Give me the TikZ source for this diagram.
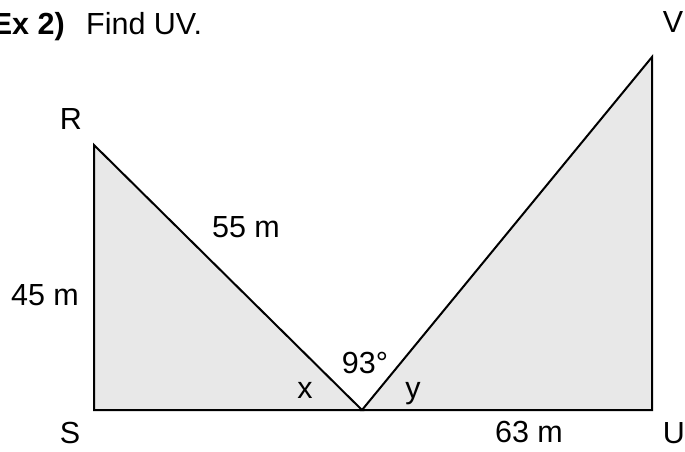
\documentclass[tikz,border=0pt]{standalone}
\usepackage{fontspec}
\setmainfont{Liberation Sans}
\definecolor{cFill}{HTML}{E8E8E8}
\definecolor{cInk}{HTML}{000000}

\begin{document}
\begin{tikzpicture}[
  x=1pt, y=1pt,
  font=\fontsize{30.5}{36}\selectfont,
  tri/.style={draw=cInk, fill=cFill, line width=2pt, line join=miter},
  lbl/.style={anchor=base, inner sep=0pt, text=cInk},
]
\useasboundingbox (0,0) rectangle (685,451);

% ---------------- title ----------------
\node[lbl, anchor=base east, font=\fontsize{30.5}{36}\selectfont\bfseries] (exlbl) at (65,417) {Ex 2)};
\node[lbl, anchor=base west] (task) at (86,417) {Find UV.};

% ---------------- vertices ----------------
\coordinate (S) at (94,41);
\coordinate (R) at (94,306);
\coordinate (M) at (362,41);
\coordinate (U) at (652,41);
\coordinate (V) at (652,394);

% ---------------- triangles ----------------
\draw[tri] (S) -- (R) -- (M) -- cycle;
\draw[tri] (M) -- (V) -- (U) -- cycle;

% ---------------- vertex labels ----------------
\node[lbl] (lblR) at (71,322) {R};
\node[lbl] (lblS) at (70,8) {S};
\node[lbl] (lblV) at (673,418) {V};
\node[lbl] (lblU) at (674,8) {U};

% ---------------- measures ----------------
\node[lbl] (lenRM) at (246,214) {55 m};
\node[lbl] (lenRS) at (45,146) {45 m};
\node[lbl] (lenMU) at (529,9) {63 m};
\node[lbl] (angM) at (365,78) {93°};
\node[lbl] (angx) at (305,53) {x};
\node[lbl] (angy) at (413,53) {y};

\end{tikzpicture}
\end{document}
